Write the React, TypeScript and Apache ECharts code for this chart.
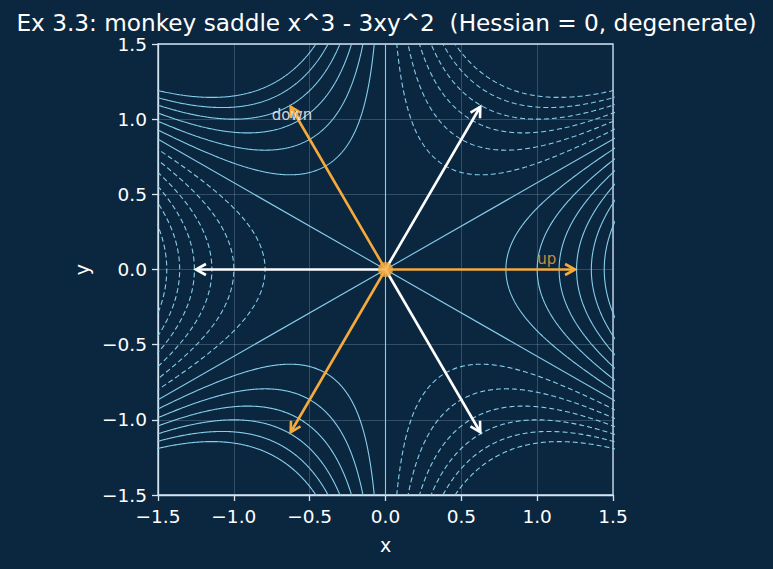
import React, { useEffect, useRef } from "react";
import * as echarts from "echarts";

// ---- data ----
const TITLE = "Ex 3.3: monkey saddle x^3 - 3xy^2  (Hessian = 0, degenerate)";
const X_RANGE = [-1.5, 1.5];
const Y_RANGE = [-1.5, 1.5];
const TICK_STEP = 0.5;
// contour levels of f(x, y) = x^3 - 3 x y^2
const NEG_LEVELS = [-3, -2.5, -2, -1.5, -1, -0.5];
const POS_LEVELS = [0.5, 1, 1.5, 2, 2.5, 3];
const ZERO_LEVEL_ANGLES_DEG = [30, 90, 150];
// arrows from the origin (angle in degrees, length)
const ARROW_LENGTH = 1.25;
const ORANGE_ARROW_ANGLES = [0, 120, 240];
const WHITE_ARROW_ANGLES = [60, 180, 300];
const TEXT_LABELS = [
  { text: "up", x: 1.0, y: 0.04, kind: "orange" },
  { text: "down", x: -0.75, y: 1.0, kind: "white" },
];

const BG = "#0b2740";
const CONTOUR = "#87ceeb";
const ORANGE = "#f6aa3c";
const WHITE = "#ffffff";
const SPINE = "#d3e4f1";
const FONT = "DejaVu Sans";

// contour branch of x^3 - 3xy^2 = c, in polar form r^3 cos(3θ) = c
function contourBranches(c: number): number[][][] {
  const centers = c > 0 ? [0, 120, 240] : [60, 180, 300];
  const out: number[][][] = [];
  const N = 900;
  for (const cDeg of centers) {
    const center = (cDeg * Math.PI) / 180;
    const pts: number[][] = [];
    for (let i = 1; i < N; i++) {
      const t = -Math.PI / 6 + (i / N) * (Math.PI / 3);
      const k = Math.cos(3 * t);
      if (k <= 0) continue;
      const r = Math.cbrt(Math.abs(c) / k);
      if (r > 4) continue;
      const th = center + t;
      pts.push([r * Math.cos(th), r * Math.sin(th)]);
    }
    out.push(pts);
  }
  return out;
}

function fmt(v: number) {
  const s = Math.abs(v).toFixed(1);
  return v < 0 ? "\u2212" + s : s;
}

export default function App() {
  const ref = useRef<HTMLDivElement>(null);
  useEffect(() => {
    if (!ref.current) return;
    const chart = echarts.init(ref.current, null, { renderer: "svg" });

    const series: any[] = [];
    const addLine = (pts: number[][], dashed: boolean) => {
      series.push({
        type: "line",
        data: pts,
        showSymbol: false,
        symbol: "none",
        silent: true,
        clip: true,
        z: 2,
        lineStyle: {
          color: CONTOUR,
          width: 1.1,
          type: dashed ? [5, 3] : "solid",
        },
      });
    };
    for (const c of NEG_LEVELS) for (const b of contourBranches(c)) addLine(b, true);
    for (const c of POS_LEVELS) for (const b of contourBranches(c)) addLine(b, false);
    for (const a of ZERO_LEVEL_ANGLES_DEG) {
      const th = (a * Math.PI) / 180;
      addLine(
        [
          [-4 * Math.cos(th), -4 * Math.sin(th)],
          [4 * Math.cos(th), 4 * Math.sin(th)],
        ],
        false
      );
    }

    const arrowData = (angles: number[]) =>
      angles.map((a) => [
        ARROW_LENGTH * Math.cos((a * Math.PI) / 180),
        ARROW_LENGTH * Math.sin((a * Math.PI) / 180),
      ]);

    const arrowSeries = (angles: number[], color: string) => ({
      type: "custom",
      data: arrowData(angles),
      silent: true,
      z: 5,
      renderItem: (params: any, api: any) => {
        const s = api.coord([0, 0]);
        const e = api.coord([api.value(0), api.value(1)]);
        const dx = e[0] - s[0];
        const dy = e[1] - s[1];
        const len = Math.hypot(dx, dy);
        const ux = dx / len;
        const uy = dy / len;
        const hl = 10;
        const hw = 5.5;
        const bx = e[0] - ux * hl;
        const by = e[1] - uy * hl;
        return {
          type: "group",
          children: [
            {
              type: "line",
              shape: { x1: s[0], y1: s[1], x2: e[0], y2: e[1] },
              style: { stroke: color, lineWidth: 2.6 },
            },
            {
              type: "polyline",
              shape: {
                points: [
                  [bx - uy * hw, by + ux * hw],
                  [e[0], e[1]],
                  [bx + uy * hw, by - ux * hw],
                ],
              },
              style: { stroke: color, lineWidth: 2.6, fill: null },
            },
          ],
        };
      },
    });
    series.push(arrowSeries(ORANGE_ARROW_ANGLES, ORANGE));
    series.push(arrowSeries(WHITE_ARROW_ANGLES, WHITE));

    // origin dot
    series.push({
      type: "scatter",
      data: [[0, 0]],
      symbolSize: 15,
      itemStyle: { color: ORANGE },
      silent: true,
      z: 6,
    });

    series.push({
      type: "scatter",
      silent: true,
      z: 7,
      symbolSize: 0,
      data: TEXT_LABELS.map((l) => ({
        value: [l.x, l.y],
        label: {
          show: true,
          formatter: l.text,
          position: [0, 0],
          align: "left",
          verticalAlign: "bottom",
          offset: [0, 3],
          color: l.kind === "orange" ? ORANGE : WHITE,
          fontSize: 15,
          fontFamily: FONT,
        },
      })),
    });

    const axisCommon = (name: string, range: number[], isY: boolean) => ({
      type: "value",
      min: range[0],
      max: range[1],
      interval: TICK_STEP,
      name,
      nameLocation: "middle",
      nameGap: isY ? 66 : 40,
      nameRotate: isY ? 90 : 0,
      nameTextStyle: { color: WHITE, fontSize: 19, fontFamily: FONT },
      axisLine: { show: true, onZero: false, lineStyle: { color: SPINE, width: 1.3 } },
      axisTick: { show: true, length: 6, inside: false, lineStyle: { color: SPINE, width: 1.3 } },
      axisLabel: {
        color: WHITE,
        fontSize: 18.5,
        fontFamily: FONT,
        margin: isY ? 11 : 12,
        formatter: (v: number) => fmt(v),
      },
      splitLine: { show: true, lineStyle: { color: "rgba(190,215,235,0.28)", width: 0.8 } },
    });

    chart.setOption({
      animation: false,
      backgroundColor: BG,
      title: {
        text: TITLE,
        left: "center",
        top: 3,
        textStyle: { color: WHITE, fontSize: 23.2, fontWeight: "normal", fontFamily: FONT, lineHeight: 28 },
      },
      grid: {
        left: 158,
        top: 44,
        width: 455,
        height: 451,
        show: true,
        borderColor: SPINE,
        borderWidth: 1.3,
        backgroundColor: "transparent",
      },
      xAxis: axisCommon("x", X_RANGE, false),
      yAxis: axisCommon("y", Y_RANGE, true),
      series,
    });
    return () => chart.dispose();
  }, []);
  return (
    <div
      ref={ref}
      style={{ position: "absolute", left: 0, top: 0, width: 773, height: 569 }}
    />
  );
}
